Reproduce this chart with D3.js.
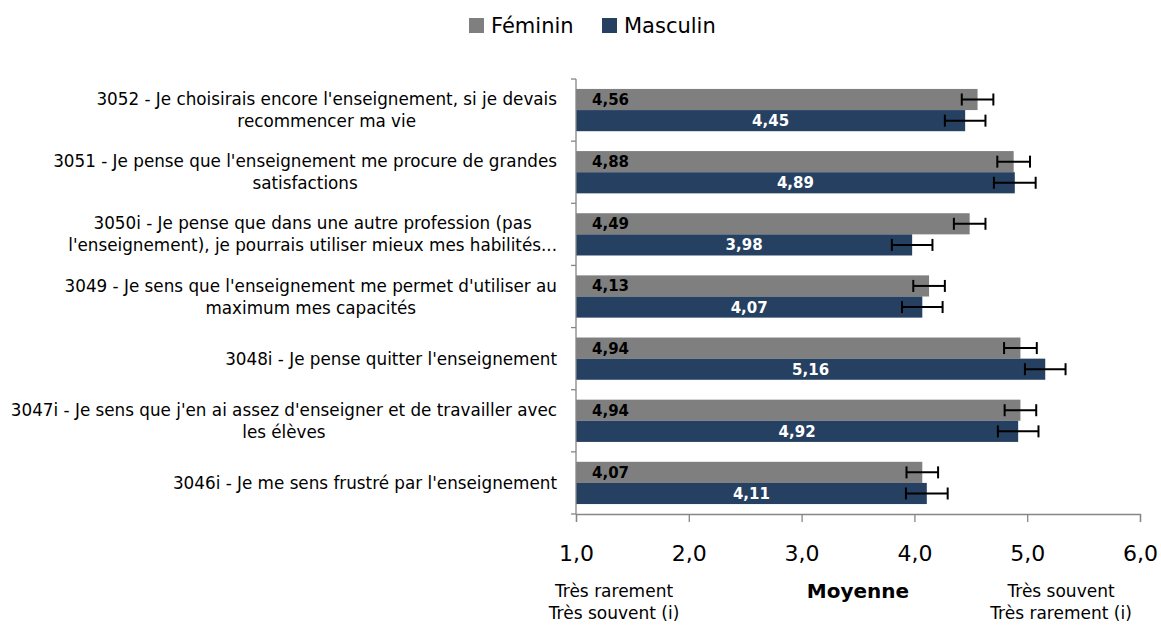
<!DOCTYPE html>
<html>
<head>
<meta charset="utf-8">
<script src="https://cdn.jsdelivr.net/npm/d3@7"></script>
<style>
  body { margin: 0; background: #fff; }
  svg { display: block; font-family: 'DejaVu Sans', sans-serif; }
</style>
</head>
<body>
<div id="chart"></div>
<script>
// Data
const categories = [
  ['3052 - Je choisirais encore l\'enseignement, si je devais', 'recommencer ma vie'],
  ['3051 - Je pense que l\'enseignement me procure de grandes', 'satisfactions'],
  ['3050i - Je pense que dans une autre profession (pas', 'l\'enseignement), je pourrais utiliser mieux mes habilités...'],
  ['3049 - Je sens que l\'enseignement me permet d\'utiliser au', 'maximum mes capacités'],
  ['3048i - Je pense quitter l\'enseignement'],
  ['3047i - Je sens que j\'en ai assez d\'enseigner et de travailler avec', 'les élèves'],
  ['3046i - Je me sens frustré par l\'enseignement']
];
const series = ['Féminin', 'Masculin'];
const feminin = [4.56, 4.88, 4.49, 4.13, 4.94, 4.94, 4.07];
const masculin = [4.45, 4.89, 3.98, 4.07, 5.16, 4.92, 4.11];
const errFeminin = [0.14, 0.145, 0.14, 0.14, 0.145, 0.14, 0.14];
const errMasculin = [0.18, 0.185, 0.18, 0.18, 0.18, 0.18, 0.185];
const ticks = [1, 2, 3, 4, 5, 6];
const colors = ['#7f7f7f', '#254061'];

const W = 1161, H = 626;
const mLeft = 576, mRight = 1140, mTop = 79, mBottom = 514;

const svg = d3.select('#chart').append('svg')
  .attr('width', W)
  .attr('height', H);

const x = d3.scaleLinear().domain([1, 6]).range([mLeft, mRight]);
const y = d3.scaleBand()
  .domain(d3.range(categories.length))
  .range([mTop, mBottom])
  .paddingInner(0.32)
  .paddingOuter(0.16);
const ySub = d3.scaleBand().domain(series).range([0, y.bandwidth()]);
const color = d3.scaleOrdinal().domain(series).range(colors);
const fmt = (v) => d3.format('.2f')(v).replace('.', ',');

const rows = categories.map((c, i) => ({
  i,
  values: [
    { s: 'Féminin', v: feminin[i], e: errFeminin[i] },
    { s: 'Masculin', v: masculin[i], e: errMasculin[i] }
  ]
}));

// legend
const legend = svg.append('g');
const legX = [469, 602];
series.forEach((s, k) => {
  legend.append('rect')
    .attr('x', legX[k]).attr('y', 18)
    .attr('width', 15).attr('height', 15)
    .attr('fill', color(s));
  legend.append('text')
    .attr('x', legX[k] + 22).attr('y', 33)
    .attr('font-size', 21)
    .attr('fill', '#000')
    .text(s);
});

// bars
const g = svg.selectAll('g.row')
  .data(rows)
  .join('g')
  .attr('class', 'row')
  .attr('transform', (d) => `translate(0,${y(d.i)})`);

g.selectAll('rect.bar')
  .data((d) => d.values)
  .join('rect')
  .attr('class', 'bar')
  .attr('x', x(1))
  .attr('y', (d) => ySub(d.s))
  .attr('width', (d) => x(d.v) - x(1))
  .attr('height', ySub.bandwidth())
  .attr('fill', (d) => color(d.s));

// error bars
const eb = g.selectAll('g.err')
  .data((d) => d.values)
  .join('g')
  .attr('class', 'err')
  .attr('stroke', '#000')
  .attr('stroke-width', 2);

eb.append('line')
  .attr('x1', (d) => x(d.v - d.e))
  .attr('x2', (d) => x(d.v + d.e))
  .attr('y1', (d) => ySub(d.s) + ySub.bandwidth() / 2)
  .attr('y2', (d) => ySub(d.s) + ySub.bandwidth() / 2);

eb.selectAll('line.cap')
  .data((d) => [d.v - d.e, d.v + d.e].map((v) => ({ v, s: d.s })))
  .join('line')
  .attr('class', 'cap')
  .attr('x1', (d) => x(d.v))
  .attr('x2', (d) => x(d.v))
  .attr('y1', (d) => ySub(d.s) + ySub.bandwidth() / 2 - 6)
  .attr('y2', (d) => ySub(d.s) + ySub.bandwidth() / 2 + 6);

// value labels
g.selectAll('text.val')
  .data((d) => d.values)
  .join('text')
  .attr('class', 'val')
  .attr('font-size', 15)
  .attr('font-weight', 'bold')
  .attr('fill', (d) => (d.s === 'Féminin' ? '#000' : '#fff'))
  .attr('text-anchor', (d) => (d.s === 'Féminin' ? 'start' : 'middle'))
  .attr('x', (d) => (d.s === 'Féminin' ? x(1) + 16 : (x(1) + x(d.v)) / 2))
  .attr('y', (d) => ySub(d.s) + ySub.bandwidth() / 2 + 5.5)
  .text((d) => fmt(d.v));

// category axis
const axisColor = '#868686';
svg.append('line')
  .attr('x1', mLeft).attr('x2', mLeft)
  .attr('y1', mTop).attr('y2', mBottom)
  .attr('stroke', axisColor).attr('stroke-width', 1.3);

const bounds = d3.range(categories.length + 1).map((k) => mTop + k * y.step());
svg.selectAll('line.ctick')
  .data(bounds)
  .join('line')
  .attr('class', 'ctick')
  .attr('x1', mLeft - 5).attr('x2', mLeft)
  .attr('y1', (d) => d).attr('y2', (d) => d)
  .attr('stroke', axisColor).attr('stroke-width', 1.3);

// labels: block right-aligned at 557, lines centred inside the block
const labelRight = 557;
const labels = svg.selectAll('text.cat')
  .data(categories)
  .join('text')
  .attr('class', 'cat')
  .attr('text-anchor', 'middle')
  .attr('font-size', 16.8)
  .attr('fill', '#000');

labels.selectAll('tspan')
  .data((d, i) => d.map((t, k) => ({ t, k, n: d.length, i })))
  .join('tspan')
  .attr('y', (d) => y(d.i) + y.bandwidth() / 2 + (d.k - (d.n - 1) / 2) * 22 + 6)
  .text((d) => d.t);

labels.each(function () {
  const spans = d3.select(this).selectAll('tspan');
  const maxW = d3.max(spans.nodes(), (n) => n.getComputedTextLength());
  spans.attr('x', labelRight - maxW / 2);
});

// value axis
const xAxis = svg.append('g')
  .attr('transform', `translate(0,${mBottom})`)
  .call(d3.axisBottom(x).tickValues(ticks).tickSize(8).tickFormat((d) => d3.format('.1f')(d).replace('.', ',')));
xAxis.select('.domain').attr('stroke', axisColor).attr('stroke-width', 1.3);
xAxis.selectAll('.tick line').attr('stroke', axisColor).attr('stroke-width', 1.3);
xAxis.selectAll('.tick text')
  .attr('font-family', 'DejaVu Sans, sans-serif')
  .attr('font-size', 22)
  .attr('fill', '#000')
  .attr('dy', null)
  .attr('y', 47);

// axis titles
const sub = svg.append('g').attr('font-size', 17).attr('fill', '#000').attr('text-anchor', 'middle');
sub.append('text').attr('x', 614).attr('y', 597).text('Très rarement');
sub.append('text').attr('x', 614).attr('y', 619).text('Très souvent (i)');
sub.append('text').attr('x', 1061).attr('y', 597).text('Très souvent');
sub.append('text').attr('x', 1061).attr('y', 619).text('Très rarement (i)');
svg.append('text')
  .attr('x', (mLeft + mRight) / 2).attr('y', 598)
  .attr('text-anchor', 'middle')
  .attr('font-size', 20)
  .attr('font-weight', 'bold')
  .text('Moyenne');
</script>
</body>
</html>
